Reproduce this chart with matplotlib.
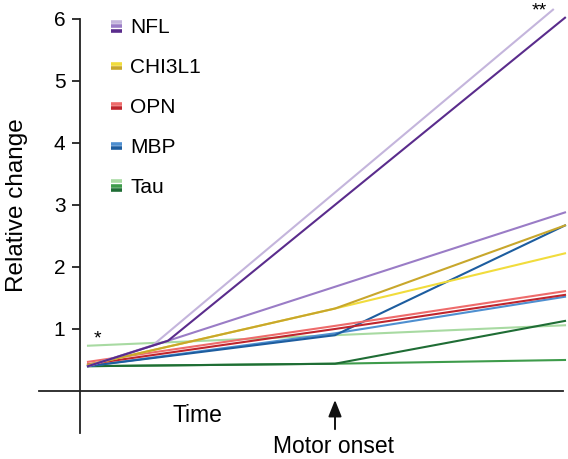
import matplotlib
matplotlib.use('Agg')
import matplotlib.pyplot as plt

plt.rcParams['font.family'] = ['Liberation Sans', 'DejaVu Sans']

# time points (arbitrary units): start, motor onset, end
t_start, t_onset, t_end = 0.08, 2.55, 4.85

# NFL lines branch before onset
nfl_light_x = [t_start, 0.73, 4.73]
nfl_light_y = [0.40, 0.74, 6.15]
nfl_mid_x = [t_start, 0.88, t_end]
nfl_mid_y = [0.40, 0.81, 2.88]
nfl_dark_x = [t_start, 0.88, t_end]
nfl_dark_y = [0.40, 0.81, 6.02]

# the rest: start, onset, end
x3 = [t_start, t_onset, t_end]
chi_light_y = [0.42, 1.33, 2.22]
chi_dark_y = [0.42, 1.33, 2.67]
opn_light_y = [0.47, 1.05, 1.61]
opn_dark_y = [0.43, 1.00, 1.55]
mbp_light_y = [0.40, 0.93, 1.52]
mbp_dark_y = [0.40, 0.90, 2.67]
tau_light_y = [0.73, 0.90, 1.06]
tau_mid_y = [0.40, 0.44, 0.50]
tau_dark_y = [0.40, 0.44, 1.13]

markers = ['NFL', 'CHI3L1', 'OPN', 'MBP', 'Tau']
shades = {
    'NFL': ['#c4b5dc', '#9a7cc6', '#5a2c8c'],
    'CHI3L1': ['#f1dc3c', '#c8a72c'],
    'OPN': ['#ee6b6b', '#bf252d'],
    'MBP': ['#4e8fd0', '#1d5d9f'],
    'Tau': ['#a8daa2', '#3e9b4b', '#1f6d35'],
}

fig = plt.figure(figsize=(5.68, 4.59), dpi=100)
ax = fig.add_axes([0, 0, 1, 1])
ax.set_xlim(-0.80, 4.88)
ax.set_ylim(-1.097, 6.306)

lw = 1.5
# draw order: Tau, MBP, OPN, CHI3L1, NFL
ax.plot(x3, tau_light_y, color=shades['Tau'][0], lw=lw)
ax.plot(x3, tau_mid_y, color=shades['Tau'][1], lw=lw)
ax.plot(x3, tau_dark_y, color=shades['Tau'][2], lw=lw)
ax.plot(x3, mbp_light_y, color=shades['MBP'][0], lw=lw)
ax.plot(x3, mbp_dark_y, color=shades['MBP'][1], lw=lw)
ax.plot(x3, opn_light_y, color=shades['OPN'][0], lw=lw)
ax.plot(x3, opn_dark_y, color=shades['OPN'][1], lw=lw)
ax.plot(x3, chi_light_y, color=shades['CHI3L1'][0], lw=lw)
ax.plot(x3, chi_dark_y, color=shades['CHI3L1'][1], lw=lw)
ax.plot(nfl_light_x, nfl_light_y, color=shades['NFL'][0], lw=lw)
ax.plot(nfl_mid_x, nfl_mid_y, color=shades['NFL'][1], lw=lw)
ax.plot(nfl_dark_x, nfl_dark_y, color=shades['NFL'][2], lw=lw)

# axes: crossing spines
for s in ['top', 'right']:
    ax.spines[s].set_visible(False)
ax.spines['left'].set_position(('data', 0))
ax.spines['bottom'].set_position(('data', 0))
ax.spines['left'].set_bounds(-0.68, 6)
ax.spines['bottom'].set_bounds(-0.41, 4.83)
for s in ['left', 'bottom']:
    ax.spines[s].set_linewidth(1.3)
    ax.spines[s].set_color('#222222')
ax.set_xticks([])
ax.set_yticks([1, 2, 3, 4, 5, 6])
ax.tick_params(axis='y', direction='out', length=5.5, width=1.3, color='#222222',
               labelsize=15, pad=5)

ax.text(-0.63, 3.0, 'Relative change', rotation=90, ha='center', va='center', fontsize=17.5)
ax.text(1.17, -0.39, 'Time', ha='center', va='center', fontsize=16.5)
ax.text(2.535, -0.90, 'Motor onset', ha='center', va='center', fontsize=16.5)
ax.annotate('', xy=(t_onset, -0.10), xytext=(t_onset, -0.66),
            arrowprops=dict(arrowstyle='-|>,head_length=1.0,head_width=0.4',
                            color='#111111', lw=1.4))

ax.text(0.17, 0.84, '*', ha='center', va='center', fontsize=14)
ax.text(4.59, 6.13, '**', ha='center', va='center', fontsize=14)

# custom legend with stacked shade bars
for i, m in enumerate(markers):
    yc = 0.939 - i * 0.087
    cols = shades[m]
    n = len(cols)
    for j, c in enumerate(cols):
        yb = yc + (n - 1) * 0.0048 - j * 0.0096 + 0.004
        ax.plot([0.196, 0.214], [yb, yb], color=c, lw=2.6, transform=ax.transAxes,
                solid_capstyle='butt')
    ax.text(0.229, yc, m, transform=ax.transAxes, ha='left', va='center', fontsize=15)

fig.savefig('out.png', dpi=100)
